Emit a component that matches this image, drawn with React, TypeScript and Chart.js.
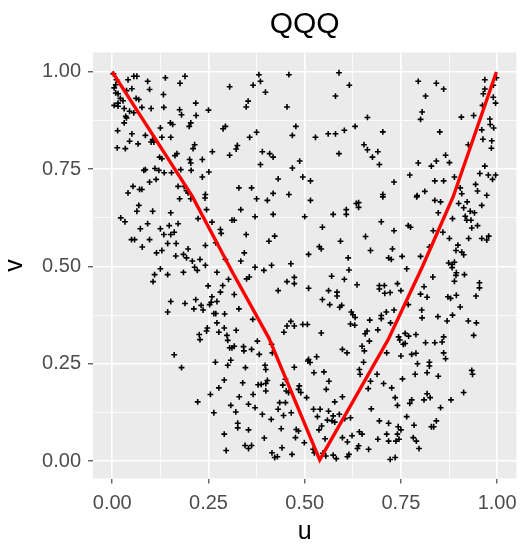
import { useEffect, useRef } from 'react';
import { Chart, registerables } from 'chart.js';

Chart.register(...registerables);

const FONT = "'Liberation Sans', Arial, Helvetica, sans-serif";

const TITLE = 'QQQ';
const X_LABEL = 'u';
const Y_LABEL = 'v';
const MAJOR_TICKS = [0, 0.25, 0.5, 0.75, 1];
const MINOR_TICKS = [0.125, 0.375, 0.625, 0.875];
const X_RANGE = [-0.05, 1.05];
const Y_RANGE = [-0.045, 1.05];

// red fitted curve
const CURVE_U = [0, 0.208, 0.313, 0.407, 0.539, 0.718, 0.806, 0.886, 0.998];
const CURVE_V = [1, 0.68, 0.484, 0.316, 0.003, 0.314, 0.5, 0.68, 1.0];

const SAMPLE_UV: [number, number][] = [
  [0.041,0.980],[0.056,0.989],[0.064,0.989],[0.092,0.976],[0.138,0.985],[0.189,0.989],[0.176,0.971],[0.305,0.962],[0.097,0.955],[0.051,0.957],
  [0.037,0.952],[0.009,0.967],[0.005,0.959],[0.015,0.944],[0.009,0.946],[0.133,0.942],[0.021,0.932],[0.028,0.926],[0.015,0.920],[0.005,0.914],
  [0.015,0.912],[0.031,0.906],[0.062,0.932],[0.069,0.929],[0.077,0.909],[0.056,0.895],[0.045,0.899],[0.035,0.886],[0.037,0.882],[0.031,0.869],
  [0.101,0.906],[0.134,0.909],[0.175,0.903],[0.180,0.890],[0.217,0.920],[0.218,0.888],[0.250,0.902],[0.151,0.869],[0.157,0.865],[0.204,0.869],
  [0.200,0.860],[0.125,0.856],[0.014,0.849],[0.051,0.841],[0.086,0.837],[0.105,0.826],[0.101,0.820],[0.108,0.820],[0.045,0.822],[0.067,0.815],
  [0.034,0.803],[0.013,0.805],[0.129,0.832],[0.152,0.832],[0.214,0.813],[0.210,0.803],[0.260,0.795],[0.305,0.786],[0.123,0.781],[0.129,0.777],
  [0.168,0.790],[0.163,0.785],[0.201,0.775],[0.234,0.775],[0.204,0.766],[0.086,0.749],[0.082,0.747],[0.111,0.752],[0.121,0.747],[0.135,0.741],
  [0.154,0.741],[0.178,0.749],[0.205,0.747],[0.251,0.743],[0.234,0.730],[0.097,0.717],[0.114,0.724],[0.054,0.706],[0.077,0.698],[0.071,0.698],
  [0.041,0.689],[0.171,0.706],[0.187,0.706],[0.193,0.695],[0.197,0.689],[0.242,0.685],[0.294,0.860],[0.288,0.854],[0.003,0.995],[0.011,0.980],
  [0.381,0.993],[0.459,0.993],[0.385,0.976],[0.366,0.966],[0.398,0.948],[0.353,0.925],[0.348,0.910],[0.454,0.910],[0.589,0.998],[0.616,0.966],
  [0.580,0.938],[0.663,0.883],[0.477,0.860],[0.468,0.837],[0.375,0.845],[0.357,0.832],[0.325,0.811],[0.322,0.802],[0.528,0.832],[0.561,0.841],
  [0.580,0.841],[0.603,0.850],[0.631,0.860],[0.654,0.813],[0.663,0.800],[0.676,0.781],[0.589,0.790],[0.390,0.795],[0.409,0.790],[0.418,0.781],
  [0.385,0.762],[0.487,0.771],[0.468,0.753],[0.431,0.725],[0.495,0.730],[0.515,0.720],[0.329,0.702],[0.362,0.702],[0.418,0.688],[0.459,0.685],
  [0.795,0.976],[0.842,0.971],[0.861,0.956],[0.814,0.938],[0.805,0.897],[0.801,0.878],[0.968,0.980],[0.998,0.985],[0.990,0.966],[0.968,0.956],
  [0.964,0.944],[0.990,0.935],[0.996,0.920],[0.962,0.914],[0.907,0.884],[0.939,0.888],[0.981,0.879],[0.982,0.865],[0.991,0.856],[0.960,0.851],
  [0.963,0.827],[0.986,0.823],[0.985,0.804],[0.925,0.813],[0.851,0.846],[0.703,0.846],[0.690,0.795],[0.694,0.762],[0.795,0.766],[0.842,0.771],
  [0.866,0.786],[0.876,0.767],[0.829,0.758],[0.773,0.735],[0.732,0.717],[0.838,0.720],[0.861,0.720],[0.889,0.730],[0.955,0.739],[0.968,0.758],
  [0.977,0.735],[0.996,0.735],[0.988,0.724],[0.944,0.711],[0.904,0.702],[0.908,0.687],[0.812,0.693],[0.792,0.682],[0.703,0.685],[0.949,0.694],
  [0.973,0.683],
  [0.175,0.674],[0.204,0.674],[0.241,0.676],[0.069,0.657],[0.064,0.642],[0.105,0.642],[0.152,0.638],[0.245,0.646],[0.223,0.623],[0.022,0.625],
  [0.033,0.615],[0.092,0.610],[0.073,0.597],[0.125,0.597],[0.148,0.605],[0.171,0.610],[0.134,0.582],[0.152,0.582],[0.161,0.588],[0.259,0.614],
  [0.281,0.595],[0.283,0.585],[0.311,0.619],[0.050,0.569],[0.058,0.569],[0.097,0.569],[0.144,0.559],[0.166,0.559],[0.078,0.550],[0.115,0.535],
  [0.129,0.541],[0.165,0.527],[0.185,0.531],[0.193,0.522],[0.197,0.545],[0.242,0.554],[0.269,0.561],[0.208,0.514],[0.228,0.518],[0.242,0.503],
  [0.214,0.498],[0.221,0.490],[0.125,0.494],[0.110,0.479],[0.106,0.461],[0.144,0.479],[0.185,0.485],[0.272,0.485],[0.294,0.518],[0.302,0.467],
  [0.287,0.451],[0.249,0.450],[0.281,0.434],[0.259,0.422],[0.257,0.408],[0.272,0.410],[0.253,0.402],[0.152,0.410],[0.189,0.405],[0.217,0.415],
  [0.231,0.400],[0.212,0.391],[0.236,0.388],[0.144,0.383],[0.264,0.379],[0.269,0.379],[0.292,0.378],[0.272,0.355],[0.247,0.342],[0.245,0.334],
  [0.277,0.331],[0.291,0.342],[0.226,0.325],[0.298,0.323],
  [0.375,0.674],[0.403,0.670],[0.334,0.646],[0.317,0.619],[0.371,0.628],[0.418,0.634],[0.515,0.670],[0.500,0.628],[0.574,0.634],[0.608,0.646],
  [0.608,0.634],[0.634,0.662],[0.640,0.664],[0.640,0.652],[0.546,0.601],[0.348,0.582],[0.422,0.578],[0.407,0.565],[0.593,0.565],[0.658,0.577],
  [0.671,0.541],[0.538,0.551],[0.543,0.545],[0.510,0.531],[0.613,0.522],[0.343,0.535],[0.334,0.514],[0.371,0.498],[0.414,0.503],[0.394,0.490],
  [0.464,0.507],[0.615,0.491],[0.570,0.475],[0.603,0.467],[0.636,0.453],[0.349,0.468],[0.356,0.473],[0.454,0.461],[0.473,0.472],[0.473,0.456],
  [0.431,0.438],[0.510,0.444],[0.562,0.438],[0.584,0.434],[0.584,0.424],[0.546,0.415],[0.565,0.402],[0.591,0.395],[0.596,0.400],[0.317,0.428],
  [0.329,0.391],[0.621,0.383],[0.625,0.376],[0.631,0.369],[0.619,0.352],[0.630,0.349],[0.669,0.362],[0.662,0.334],[0.657,0.327],[0.365,0.364],
  [0.322,0.336],[0.464,0.359],[0.454,0.347],[0.473,0.347],[0.446,0.331],[0.495,0.351],[0.507,0.351],[0.543,0.329],
  [0.703,0.679],[0.791,0.679],[0.838,0.670],[0.853,0.666],[0.900,0.662],[0.922,0.666],[0.913,0.651],[0.960,0.657],[0.847,0.638],[0.884,0.623],
  [0.917,0.629],[0.930,0.642],[0.941,0.638],[0.921,0.619],[0.932,0.619],[0.699,0.615],[0.769,0.605],[0.775,0.601],[0.732,0.592],[0.834,0.592],
  [0.859,0.588],[0.934,0.599],[0.949,0.605],[0.876,0.572],[0.926,0.572],[0.960,0.572],[0.978,0.578],[0.973,0.568],[0.898,0.555],[0.893,0.541],
  [0.908,0.537],[0.913,0.530],[0.824,0.550],[0.728,0.545],[0.718,0.522],[0.725,0.518],[0.753,0.526],[0.801,0.526],[0.874,0.509],[0.883,0.505],
  [0.889,0.511],[0.883,0.497],[0.894,0.484],[0.893,0.477],[0.915,0.479],[0.765,0.494],[0.833,0.473],[0.889,0.462],[0.954,0.458],[0.954,0.445],
  [0.741,0.456],[0.694,0.451],[0.707,0.451],[0.694,0.442],[0.708,0.431],[0.722,0.433],[0.750,0.438],[0.810,0.448],[0.801,0.429],[0.818,0.421],
  [0.872,0.422],[0.879,0.418],[0.894,0.426],[0.945,0.424],[0.769,0.402],[0.904,0.396],[0.712,0.383],[0.699,0.374],[0.699,0.366],[0.732,0.388],
  [0.804,0.388],[0.805,0.368],[0.846,0.371],[0.884,0.375],[0.870,0.360],[0.925,0.360],[0.946,0.355],[0.723,0.355],[0.690,0.337],[0.939,0.323],
  [0.744,0.319],[0.761,0.328],[0.770,0.321],[0.789,0.325],[0.861,0.319],
  [0.161,0.273],[0.180,0.240],[0.228,0.312],[0.300,0.310],[0.305,0.291],[0.311,0.291],[0.308,0.259],[0.268,0.254],[0.300,0.246],[0.291,0.208],
  [0.277,0.188],[0.255,0.171],[0.222,0.152],[0.308,0.143],[0.264,0.124],[0.291,0.069],[0.296,0.027],
  [0.341,0.294],[0.342,0.283],[0.317,0.295],[0.362,0.287],[0.377,0.308],[0.382,0.274],[0.414,0.300],[0.416,0.278],[0.346,0.240],[0.397,0.246],
  [0.399,0.235],[0.403,0.207],[0.399,0.199],[0.399,0.180],[0.387,0.197],[0.379,0.196],[0.339,0.201],[0.366,0.171],[0.354,0.146],[0.371,0.137],
  [0.330,0.165],[0.321,0.126],[0.390,0.120],[0.326,0.097],[0.326,0.085],[0.354,0.080],[0.413,0.107],[0.395,0.059],[0.345,0.040],[0.354,0.032],
  [0.362,0.040],[0.415,0.021],[0.422,0.009],[0.429,0.011],[0.441,0.034],[0.467,0.017],[0.439,0.083],[0.445,0.117],[0.435,0.150],[0.450,0.150],
  [0.431,0.133],[0.465,0.124],[0.452,0.180],[0.458,0.176],[0.443,0.195],[0.450,0.210],[0.473,0.241],[0.484,0.184],[0.490,0.176],[0.505,0.163],
  [0.486,0.193],[0.478,0.081],[0.484,0.077],[0.476,0.060],[0.499,0.047],[0.522,0.030],[0.525,0.021],[0.531,0.268],[0.508,0.257],[0.514,0.253],
  [0.510,0.261],[0.524,0.227],[0.550,0.229],[0.563,0.205],[0.556,0.184],[0.598,0.287],[0.610,0.278],[0.649,0.295],[0.668,0.308],[0.655,0.283],
  [0.642,0.235],[0.644,0.223],[0.653,0.254],[0.671,0.205],[0.665,0.186],[0.598,0.165],[0.578,0.152],[0.523,0.133],[0.540,0.133],[0.562,0.128],
  [0.533,0.114],[0.559,0.105],[0.571,0.103],[0.578,0.100],[0.574,0.116],[0.590,0.120],[0.604,0.109],[0.619,0.111],[0.544,0.090],[0.537,0.080],
  [0.673,0.134],[0.642,0.075],[0.649,0.069],[0.623,0.065],[0.598,0.060],[0.611,0.049],[0.637,0.032],[0.640,0.039],[0.615,0.017],[0.611,0.011],
  [0.553,0.057],[0.555,0.013],[0.574,0.015],[0.582,0.006],[0.547,0.020],[0.666,0.030],
  [0.747,0.311],[0.756,0.300],[0.761,0.302],[0.814,0.304],[0.838,0.304],[0.857,0.306],[0.713,0.278],[0.750,0.270],[0.778,0.274],[0.789,0.277],
  [0.861,0.278],[0.866,0.263],[0.793,0.250],[0.824,0.254],[0.824,0.244],[0.818,0.227],[0.787,0.223],[0.847,0.218],[0.754,0.211],[0.705,0.199],
  [0.726,0.188],[0.934,0.233],[0.936,0.223],[0.913,0.176],[0.818,0.173],[0.826,0.163],[0.810,0.157],[0.778,0.157],[0.773,0.148],[0.880,0.157],
  [0.853,0.137],[0.735,0.163],[0.741,0.143],[0.765,0.114],[0.694,0.103],[0.718,0.097],[0.743,0.088],[0.750,0.080],[0.784,0.092],[0.842,0.103],
  [0.829,0.088],[0.835,0.088],[0.741,0.069],[0.713,0.069],[0.690,0.056],[0.718,0.051],[0.737,0.051],[0.745,0.056],[0.782,0.060],[0.790,0.051],
  [0.797,0.032],[0.722,0.004],[0.735,0.009],[0.688,0.223],
];

const ALL_TICKS = [...MAJOR_TICKS, ...MINOR_TICKS].sort((a, b) => a - b);
const isMajor = (v: number) => MAJOR_TICKS.some((m) => Math.abs(m - v) < 1e-9);

const panelBackground = {
  id: 'panelBackground',
  beforeDraw(chart: any) {
    const { ctx, chartArea } = chart;
    ctx.save();
    ctx.fillStyle = '#EBEBEB';
    ctx.fillRect(chartArea.left, chartArea.top, chartArea.right - chartArea.left, chartArea.bottom - chartArea.top);
    ctx.restore();
  },
};

const panelTitle = {
  id: 'panelTitle',
  afterDraw(chart: any) {
    const { ctx, chartArea } = chart;
    ctx.save();
    ctx.font = `30px ${FONT}`;
    ctx.fillStyle = '#000000';
    ctx.textAlign = 'center';
    ctx.textBaseline = 'alphabetic';
    ctx.fillText(TITLE, (chartArea.left + chartArea.right) / 2, 33);
    ctx.restore();
  },
};

function axisGrid() {
  return {
    color: '#FFFFFF',
    lineWidth: (ctx: any) => (ctx.tick && isMajor(ctx.tick.value) ? 1.6 : 0.8),
    drawTicks: true,
    tickLength: 5,
    tickWidth: 1.1,
    tickColor: (ctx: any) => (ctx.tick && isMajor(ctx.tick.value) ? '#333333' : 'rgba(0,0,0,0)'),
  };
}

export default function App() {
  const ref = useRef<HTMLCanvasElement>(null);

  useEffect(() => {
    const canvas = ref.current;
    if (!canvas) return;
    const points = SAMPLE_UV.map(([u, v]) => ({ x: u, y: v }));
    const curve = CURVE_U.map((u, i) => ({ x: u, y: CURVE_V[i] }));

    const chart = new Chart(canvas, {
      type: 'scatter',
      data: {
        datasets: [
          {
            type: 'line',
            data: curve,
            borderColor: '#FF0000',
            backgroundColor: '#FF0000',
            borderWidth: 3.4,
            pointRadius: 0,
            fill: false,
            tension: 0,
            order: 0,
          } as any,
          {
            type: 'scatter',
            data: points,
            pointStyle: 'cross',
            pointRadius: 2.9,
            borderColor: '#000000',
            backgroundColor: '#000000',
            borderWidth: 1.6,
            order: 1,
          } as any,
        ],
      },
      options: {
        animation: false,
        responsive: false,
        events: [],
        layout: { padding: { top: 52.5, right: 2, left: 0, bottom: 0 } },
        plugins: {
          legend: { display: false },
          tooltip: { enabled: false },
          title: { display: false },
        },
        scales: {
          x: {
            type: 'linear',
            position: 'bottom',
            min: X_RANGE[0],
            max: X_RANGE[1],
            afterBuildTicks: (scale: any) => {
              scale.ticks = ALL_TICKS.map((value) => ({ value }));
            },
            afterFit: (scale: any) => {
              scale.height = 65.5;
              scale.paddingLeft = 0;
              scale.paddingRight = 0;
            },
            grid: axisGrid() as any,
            border: { display: false },
            ticks: {
              autoSkip: false,
              maxRotation: 0,
              color: '#4D4D4D',
              font: { family: FONT, size: 20 },
              padding: 8,
              callback: (value: any) => (isMajor(Number(value)) ? Number(value).toFixed(2) : ''),
            },
            title: {
              display: true,
              text: X_LABEL,
              color: '#000000',
              font: { family: FONT, size: 25, lineHeight: 0.96 },
              padding: { top: 0, bottom: 0 },
            },
          },
          y: {
            type: 'linear',
            position: 'left',
            min: Y_RANGE[0],
            max: Y_RANGE[1],
            afterBuildTicks: (scale: any) => {
              scale.ticks = ALL_TICKS.map((value) => ({ value }));
            },
            afterFit: (scale: any) => {
              scale.width = 93;
              scale.paddingTop = 0;
              scale.paddingBottom = 0;
            },
            grid: axisGrid() as any,
            border: { display: false },
            ticks: {
              autoSkip: false,
              color: '#4D4D4D',
              font: { family: FONT, size: 20 },
              padding: 7,
              callback: (value: any) => (isMajor(Number(value)) ? Number(value).toFixed(2) : ''),
            },
            title: {
              display: true,
              text: Y_LABEL,
              color: '#000000',
              font: { family: FONT, size: 25, lineHeight: 1.04 },
              padding: { top: 2, bottom: 0 },
            },
          },
        },
      },
      plugins: [panelBackground, panelTitle],
    });

    return () => chart.destroy();
  }, []);

  return (
    <div style={{ position: 'fixed', left: 0, top: 0, width: 522, height: 544, background: '#FFFFFF' }}>
      <canvas ref={ref} width={522} height={544} style={{ display: 'block', width: 522, height: 544 }} />
    </div>
  );
}
